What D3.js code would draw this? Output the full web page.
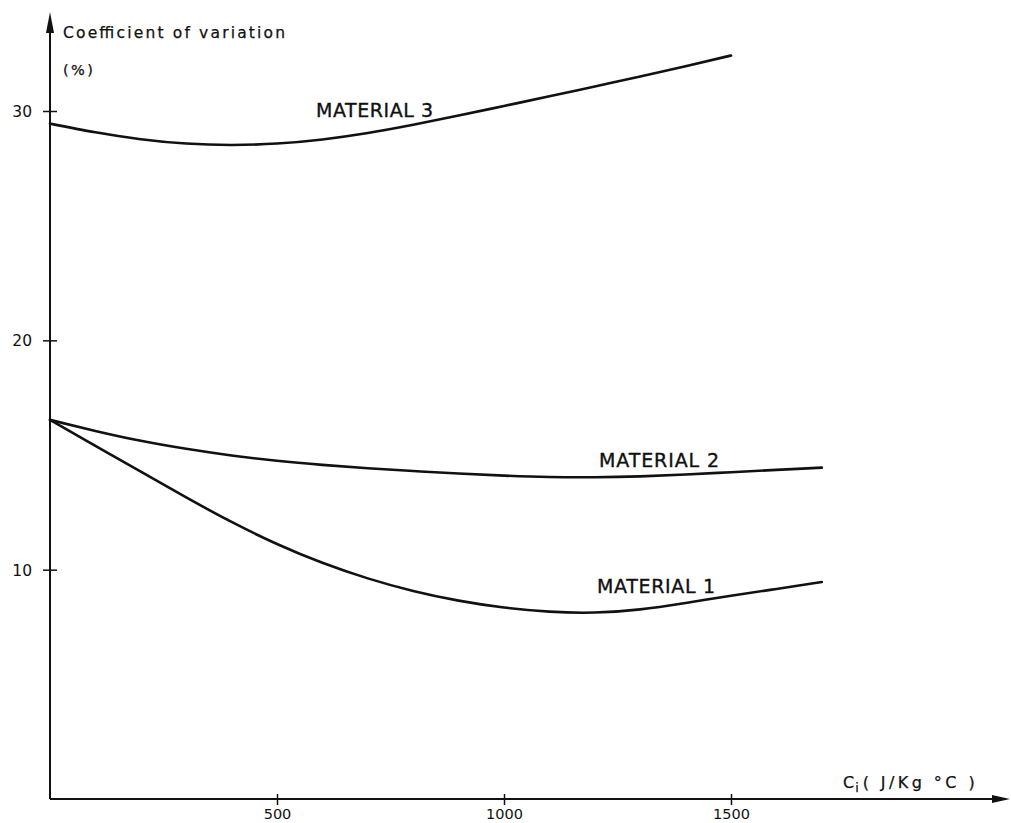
<!DOCTYPE html>
<html>
<head>
<meta charset="utf-8">
<script src="https://cdn.jsdelivr.net/npm/d3@7/dist/d3.min.js"></script>
<style>
  html, body { margin: 0; padding: 0; background: #fff; }
  svg { display: block; }
  text { fill: #111; font-family: "DejaVu Sans", sans-serif; }
</style>
</head>
<body>
<svg id="chart" width="1011" height="823"></svg>
<script>
// Specific heat c_i (J/Kg °C) sampled along each curve
const ciLong = [0, 100, 200, 300, 400, 500, 600, 700, 800, 900, 1000, 1100, 1200, 1300, 1400, 1500, 1600, 1700];
const ciShort = [0, 100, 200, 300, 400, 500, 600, 700, 800, 900, 1000, 1100, 1200, 1300, 1400, 1500];

// Coefficient of variation (%) for each material
const material1 = [16.53, 15.40, 14.27, 13.15, 12.08, 11.12, 10.30, 9.62, 9.07, 8.65, 8.35, 8.17, 8.13, 8.27, 8.55, 8.86, 9.16, 9.46];
const material2 = [16.53, 16.05, 15.62, 15.27, 14.98, 14.75, 14.57, 14.42, 14.30, 14.19, 14.10, 14.04, 14.03, 14.07, 14.15, 14.25, 14.35, 14.45];
const material3 = [29.45, 29.07, 28.77, 28.58, 28.52, 28.58, 28.76, 29.04, 29.40, 29.80, 30.22, 30.64, 31.07, 31.50, 31.95, 32.42];

const xTicks = [500, 1000, 1500];
const yTicks = [10, 20, 30];
const seriesNames = ["MATERIAL 1", "MATERIAL 2", "MATERIAL 3"];

const svg = d3.select("#chart");
const x = d3.scaleLinear().domain([0, 1500]).range([50, 731]);
const y = d3.scaleLinear().domain([0, 30]).range([799, 111]);

const ink = "#111";

// Axes lines with arrow heads
svg.append("line").attr("x1", x(0)).attr("x2", 1000).attr("y1", y(0)).attr("y2", y(0))
  .attr("stroke", ink).attr("stroke-width", 2);
svg.append("line").attr("x1", x(0)).attr("x2", x(0)).attr("y1", y(0)).attr("y2", 20)
  .attr("stroke", ink).attr("stroke-width", 2);
svg.append("path").attr("d", `M1010,${y(0)} L992,${y(0) - 4} L992,${y(0) + 4} Z`).attr("fill", ink);
svg.append("path").attr("d", `M${x(0)},12 L${x(0) - 4},33 L${x(0) + 4},33 Z`).attr("fill", ink);

// Tick marks crossing the axes
const xAxis = d3.axisBottom(x).tickValues(xTicks).tickSize(0).tickFormat(d3.format("d"));
const gx = svg.append("g").attr("transform", `translate(0,${y(0)})`).call(xAxis);
gx.select(".domain").remove();
gx.selectAll(".tick line").attr("y1", -5).attr("y2", 6).attr("stroke", ink).attr("stroke-width", 1.5);
gx.selectAll(".tick text").attr("y", 20).attr("dy", 0)
  .attr("font-family", "'DejaVu Sans Condensed', 'DejaVu Sans', sans-serif")
  .attr("font-size", 14.5).attr("fill", ink);

const yAxis = d3.axisLeft(y).tickValues(yTicks).tickSize(0).tickFormat(d3.format("d"));
const gy = svg.append("g").attr("transform", `translate(${x(0)},0)`).call(yAxis);
gy.select(".domain").remove();
gy.selectAll(".tick line").attr("x1", -7).attr("x2", 7).attr("stroke", ink).attr("stroke-width", 1.5);
gy.selectAll(".tick text").attr("x", -18).attr("dy", "0.36em")
  .attr("font-family", "'DejaVu Sans', sans-serif").attr("font-size", 15.5).attr("fill", ink);

// Axis titles
svg.append("text").attr("x", 63).attr("y", 38).attr("font-size", 15.5)
  .attr("stroke", ink).attr("stroke-width", 0.25)
  .attr("textLength", 222).attr("lengthAdjust", "spacing").text("Coefficient of variation");
svg.append("text").attr("x", 63).attr("y", 75).attr("font-size", 14.5)
  .attr("stroke", ink).attr("stroke-width", 0.25)
  .attr("textLength", 30).attr("lengthAdjust", "spacing").text("(%)");

const xt = svg.append("text").attr("x", 843).attr("y", 788).attr("font-size", 16)
  .attr("stroke", ink).attr("stroke-width", 0.25);
xt.append("tspan").text("C");
xt.append("tspan").attr("font-size", 12.5).attr("dy", 4).attr("dx", 1).text("i");
xt.append("tspan").attr("dy", -4).attr("dx", 4).attr("textLength", 112).attr("lengthAdjust", "spacing")
  .text("( J/Kg °C )");

// Curves
const line = d3.line().x(d => x(d[0])).y(d => y(d[1])).curve(d3.curveNatural);
const curves = [
  d3.zip(ciLong, material1),
  d3.zip(ciLong, material2),
  d3.zip(ciShort, material3)
];
svg.selectAll("path.curve").data(curves).join("path")
  .attr("class", "curve").attr("d", line)
  .attr("fill", "none").attr("stroke", ink).attr("stroke-width", 2.6)
  .attr("stroke-linecap", "round");

// Curve labels
const labelPos = [
  { x: 597, y: 593, w: 118 },
  { x: 599, y: 467, w: 120 },
  { x: 316, y: 117, w: 117 }
];
svg.selectAll("text.series").data(seriesNames).join("text")
  .attr("class", "series")
  .attr("x", (d, i) => labelPos[i].x).attr("y", (d, i) => labelPos[i].y)
  .attr("font-size", 19).attr("textLength", (d, i) => labelPos[i].w).attr("lengthAdjust", "spacing")
  .attr("stroke", ink).attr("stroke-width", 0.35)
  .text(d => d);
</script>
</body>
</html>
